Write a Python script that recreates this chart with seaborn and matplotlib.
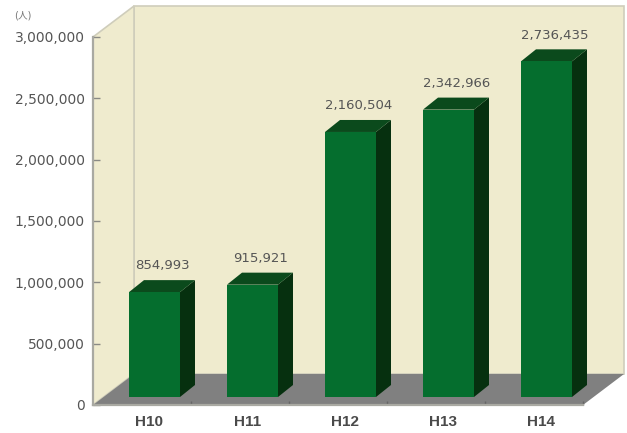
"""3D-look bar chart: H10-H14 totals, front faces by seaborn, depth faces from the same values."""
import matplotlib
matplotlib.use("Agg")
import matplotlib.pyplot as plt
from matplotlib.transforms import ScaledTranslation
import numpy as np
import pandas as pd
import seaborn as sns

years = ["H10", "H11", "H12", "H13", "H14"]
values = [854993, 915921, 2160504, 2342966, 2736435]
y_ticks = [0, 500000, 1000000, 1500000, 2000000, 2500000, 3000000]
unit_label = "(人)"

WALL = "#EFEBCE"
WALL_EDGE = "#CFCDBB"
FLOOR = "#808080"
FRONT = "#056E2E"
SIDE = "#06300F"
TOP = "#0B4A1C"
TEXT = "#555555"

# plot box in pixels of the 627x433 output
W, H = 627, 433
LEFT, RIGHT, Y0, Y3M = 93, 583, 405, 37
SPACING = 98          # px between bars
FIRST_BAR = 154.5     # px, centre of first bar
BAR_W = 51            # px
WALL_DX, WALL_DY = 41, 31
BAR_DX, BAR_DY = 15, 12
BASE_LIFT = 8         # px the bars stand above the front edge

sns.set_theme(style="white")
plt.rcParams["font.family"] = ["DejaVu Sans", "Noto Sans CJK JP"]

fig = plt.figure(figsize=(W / 100, H / 100), dpi=100)
ax = fig.add_axes([LEFT / W, 1 - Y0 / H, (RIGHT - LEFT) / W, (Y0 - Y3M) / H])
ax.patch.set_visible(False)
ax.set_axisbelow(False)

x_min = (LEFT - FIRST_BAR) / SPACING
x_max = (RIGHT - FIRST_BAR) / SPACING
y_max = y_ticks[-1]
px_y = y_max / (Y0 - Y3M)   # data units per pixel, vertical
px_x = 1 / SPACING          # data units per pixel, horizontal

df = pd.DataFrame({"year": years, "value": values})
base = BASE_LIFT * px_y
sns.barplot(data=df, x="year", y="value", ax=ax, color=FRONT, saturation=1,
            width=BAR_W / SPACING, bottom=base, linewidth=0, zorder=5)
ax.set_xlim(x_min, x_max)
ax.set_ylim(0, y_max)

# room: back wall, left wall, floor
wdx, wdy = WALL_DX * px_x, WALL_DY * px_y
ax.fill([x_min + wdx, x_max + wdx, x_max + wdx, x_min + wdx],
        [wdy, wdy, y_max + wdy, y_max + wdy],
        fc=WALL, ec=WALL_EDGE, lw=1.2, clip_on=False, zorder=1)
ax.fill([x_min, x_min + wdx, x_min + wdx, x_min],
        [0, wdy, y_max + wdy, y_max],
        fc=WALL, ec=WALL_EDGE, lw=1.2, clip_on=False, zorder=1)
ax.fill([x_min, x_max, x_max + wdx, x_min + wdx],
        [0, 0, wdy, wdy],
        fc=FLOOR, ec="none", clip_on=False, zorder=2)

# depth faces and value labels, taken from the bars seaborn drew
bdx, bdy = BAR_DX * px_x, BAR_DY * px_y
for patch, val in zip(list(ax.patches)[:len(values)], values):
    x0, x1 = patch.get_x(), patch.get_x() + patch.get_width()
    y0, y1 = patch.get_y(), patch.get_y() + patch.get_height()
    ax.fill([x1, x1 + bdx, x1 + bdx, x1], [y0, y0 + bdy, y1 + bdy, y1],
            fc=SIDE, ec="none", clip_on=False, zorder=4)
    ax.fill([x0, x1, x1 + bdx, x0 + bdx], [y1, y1, y1 + bdy, y1 + bdy],
            fc=TOP, ec="none", clip_on=False, zorder=4)
    ax.annotate(f"{val:,}", ((x0 + x1) / 2, y1 + bdy), xytext=(6, 5.5),
                textcoords="offset points", ha="center", va="bottom",
                fontsize=9.5, color=TEXT, zorder=6)

# axes
sns.despine(ax=ax, top=True, right=True)
for side in ("left", "bottom"):
    ax.spines[side].set_color("#A9A9A2")
    ax.spines[side].set_linewidth(1.6)
    ax.spines[side].set_zorder(3)
ax.set_xlabel("")
ax.set_ylabel("")
ax.set_yticks(y_ticks)
ax.set_yticklabels([f"{t:,}" for t in y_ticks], fontsize=10, color=TEXT)
ax.tick_params(axis="y", length=5, width=1, color="#8A8A84", pad=6, left=True,
               direction="in")

# x ticks sit on the category boundaries, labels near the bars
ax.set_xticks(np.arange(x_min + 1, x_max + 0.01), minor=True)
ax.tick_params(axis="x", which="minor", length=3, width=1, color="#666666",
               direction="in", bottom=True)
ax.tick_params(axis="x", which="major", length=0, pad=7)
shift = ScaledTranslation(-5 / 100, 0, fig.dpi_scale_trans)
for lab in ax.get_xticklabels():
    lab.set_family("Liberation Sans")
    lab.set_fontsize(11)
    lab.set_fontweight("bold")
    lab.set_color("#4A4A4A")
    lab.set_transform(lab.get_transform() + shift)

fig.text(14 / W, 1 - 16 / H, unit_label, fontsize=7, color="#777777", va="center")

fig.savefig("out.png", dpi=100, facecolor="white")
